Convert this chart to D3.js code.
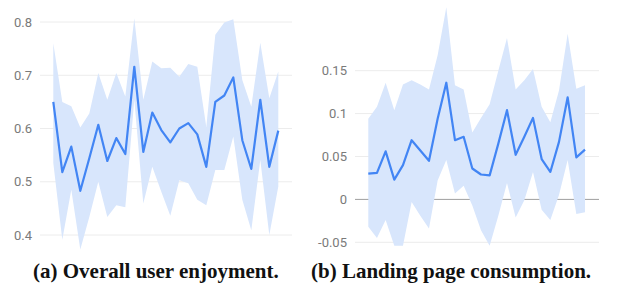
<!DOCTYPE html>
<html>
<head>
<meta charset="utf-8">
<script src="https://cdn.jsdelivr.net/npm/d3@7"></script>
<style>
  body { margin: 0; background: #fff; }
  .tick-label { font-family: Roboto, sans-serif; font-size: 13px; fill: #7a7a7a; }
  .caption { font-family: "Liberation Serif", serif; font-weight: bold; font-size: 21px; fill: #111; }
</style>
</head>
<body>
<script>
// panel (a): overall user enjoyment
var enjoyMean  = [0.650, 0.518, 0.566, 0.483, 0.544, 0.607, 0.539, 0.582, 0.552, 0.716, 0.556, 0.630, 0.597,
                  0.574, 0.600, 0.610, 0.589, 0.528, 0.650, 0.662, 0.696, 0.578, 0.524, 0.654, 0.528, 0.596];
var enjoyUpper = [0.760, 0.650, 0.642, 0.602, 0.628, 0.704, 0.654, 0.704, 0.660, 0.807, 0.654, 0.726, 0.713,
                  0.714, 0.697, 0.721, 0.716, 0.603, 0.776, 0.799, 0.805, 0.691, 0.641, 0.761, 0.657, 0.707];
var enjoyLower = [0.535, 0.391, 0.485, 0.373, 0.434, 0.500, 0.434, 0.456, 0.452, 0.654, 0.459, 0.528, 0.481,
                  0.436, 0.503, 0.497, 0.466, 0.456, 0.522, 0.522, 0.585, 0.466, 0.409, 0.541, 0.400, 0.491];
var enjoyTicks = [0.4, 0.5, 0.6, 0.7, 0.8];

// panel (b): landing page consumption
var landMean  = [0.030, 0.031, 0.056, 0.023, 0.040, 0.069, 0.057, 0.045, 0.094, 0.136, 0.069, 0.073, 0.036,
                 0.029, 0.028, 0.065, 0.104, 0.052, 0.073, 0.095, 0.047, 0.032, 0.067, 0.119, 0.049, 0.058];
var landUpper = [0.094, 0.108, 0.136, 0.104, 0.134, 0.139, 0.134, 0.128, 0.168, 0.224, 0.133, 0.128, 0.078,
                 0.095, 0.111, 0.150, 0.188, 0.128, 0.139, 0.152, 0.108, 0.090, 0.127, 0.193, 0.129, 0.133];
var landLower = [-0.032, -0.045, -0.024, -0.054, -0.054, -0.003, -0.019, -0.034, 0.022, 0.046, 0.007, 0.016, -0.007,
                 -0.036, -0.054, -0.019, 0.019, -0.021, -0.001, 0.032, -0.012, -0.024, 0.005, 0.046, -0.017, -0.015];
var landTicks = [-0.05, 0, 0.05, 0.1, 0.15];

var captions = ["(a) Overall user enjoyment.", "(b) Landing page consumption."];

var svg = d3.select("body").append("svg")
    .attr("width", 620)
    .attr("height", 291);

function drawPanel(opt) {
    var g = svg.append("g").attr("class", "panel");

    var x = d3.scaleLinear()
        .domain([0, opt.mean.length - 1])
        .range([opt.x0, opt.x1]);

    var y = d3.scaleLinear()
        .domain(opt.domain)
        .range(opt.yRange);

    // grid
    g.selectAll(".grid")
        .data(opt.ticks)
        .enter()
        .append("line")
        .attr("class", "grid")
        .attr("x1", opt.gridX0)
        .attr("x2", opt.gridX1)
        .attr("y1", function(d){ return y(d); })
        .attr("y2", function(d){ return y(d); })
        .style("stroke", function(d){ return (opt.zero && d === 0) ? "#9e9e9e" : "#ececec"; })
        .style("stroke-width", 1);

    g.selectAll(".tick-label")
        .data(opt.ticks)
        .enter()
        .append("text")
        .attr("class", "tick-label")
        .attr("text-anchor", "end")
        .attr("x", opt.gridX0 - 8)
        .attr("y", function(d){ return y(d) + 4.5; })
        .text(function(d){ return d3.format("")(d).replace("−", "-"); });

    var rows = opt.mean.map(function(m, i){
        return { i: i, m: m, lo: opt.lower[i], hi: opt.upper[i] };
    });

    var area = d3.area()
        .x(function(d){ return x(d.i); })
        .y0(function(d){ return y(d.lo); })
        .y1(function(d){ return y(d.hi); });

    g.append("path")
        .datum(rows)
        .attr("d", area)
        .style("fill", "#d8e6fc")
        .style("stroke", "none");

    var line = d3.line()
        .x(function(d){ return x(d.i); })
        .y(function(d){ return y(d.m); });

    g.append("path")
        .datum(rows)
        .attr("d", line)
        .style("fill", "none")
        .style("stroke", "#4285f4")
        .style("stroke-width", 2.2)
        .style("stroke-linejoin", "round");

    g.append("text")
        .attr("class", "caption")
        .attr("x", opt.capX)
        .attr("y", 278)
        .text(opt.caption);
}

drawPanel({
    mean: enjoyMean, upper: enjoyUpper, lower: enjoyLower, ticks: enjoyTicks,
    domain: [0.4, 0.8], yRange: [235, 22],
    x0: 53.3, x1: 278.3, gridX0: 40, gridX1: 292,
    caption: captions[0], capX: 33
});

drawPanel({
    mean: landMean, upper: landUpper, lower: landLower, ticks: landTicks,
    domain: [-0.05, 0.15], yRange: [242.3, 70.7], zero: true,
    x0: 368.3, x1: 585, gridX0: 355, gridX1: 599,
    caption: captions[1], capX: 311
});
</script>
</body>
</html>
